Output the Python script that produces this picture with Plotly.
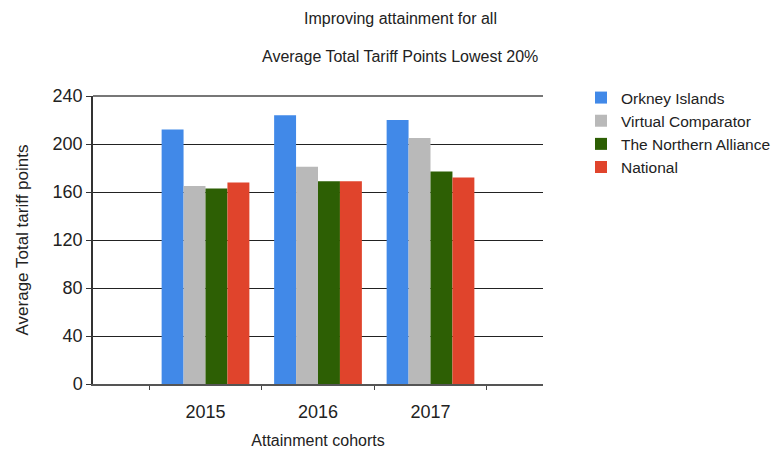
import plotly.graph_objects as go

years = ["2015", "2016", "2017"]
series_names = ["Orkney Islands", "Virtual Comparator", "The Northern Alliance", "National"]
orkney = [212, 224, 220]
virtual_comp = [165, 181, 205]
northern_alliance = [163, 169, 177]
national = [168, 169, 172]
colors = ["#4189e8", "#b9b9b9", "#2d5f04", "#e0442c"]

fig = go.Figure()
for name, vals, col in zip(series_names, [orkney, virtual_comp, northern_alliance, national], colors):
    fig.add_trace(go.Bar(x=years, y=vals, name=name, marker=dict(color=col, line=dict(width=0))))

font_fam = "Arial, Liberation Sans, sans-serif"
txt = "#222222"

# page has an 8px body margin, so the figure is drawn 8px smaller and shifted
W, H = 772, 441

fig.update_layout(
    width=W, height=H,
    margin=dict(l=85, r=237, t=88, b=65, autoexpand=False),
    plot_bgcolor="white", paper_bgcolor="white",
    barmode="group", bargap=0.22, bargroupgap=0,
    font=dict(family=font_fam, color=txt),
    showlegend=True,
    legend=dict(xref="container", yref="container", x=573 / W, y=1 - 73 / H,
                xanchor="left", yanchor="top",
                font=dict(size=15.5, color=txt), tracegroupgap=0,
                itemwidth=30, bgcolor="rgba(0,0,0,0)"),
    xaxis=dict(type="category", range=[-1, 3], tickson="boundaries",
               ticks="outside", ticklen=4, tickcolor="#444444",
               showline=True, linecolor="#555555", linewidth=2,
               showgrid=False, tickfont=dict(size=18, color=txt),
               ticklabelstandoff=10, automargin=False,
               title=dict(text="Attainment cohorts", font=dict(size=16, color=txt), standoff=16)),
    yaxis=dict(range=[0, 240], tickvals=[0, 40, 80, 120, 160, 200, 240],
               ticks="outside", ticklen=5, tickcolor="#333333",
               showline=True, linecolor="#333333", linewidth=1.5,
               showgrid=True, gridcolor="#222222", gridwidth=1.2,
               tickfont=dict(size=18, color=txt), automargin=False,
               title=dict(text="Average Total tariff points", font=dict(size=17, color=txt), standoff=20)),
)

# top border of the plot area is a lighter grey line
fig.add_shape(type="line", xref="paper", yref="paper", x0=0, x1=1, y0=1, y1=1,
              line=dict(color="#777777", width=2))

fig.add_annotation(text="Improving attainment for all", xref="paper", yref="paper",
                   x=(400 - 93) / 450, y=(384 - 18) / 288, xanchor="center", yanchor="middle",
                   showarrow=False, font=dict(size=16, color=txt))
fig.add_annotation(text="Average Total Tariff Points Lowest 20%", xref="paper", yref="paper",
                   x=(400 - 93) / 450, y=(384 - 56) / 288, xanchor="center", yanchor="middle",
                   showarrow=False, font=dict(size=16, color=txt))

fig.write_html("out.html")
